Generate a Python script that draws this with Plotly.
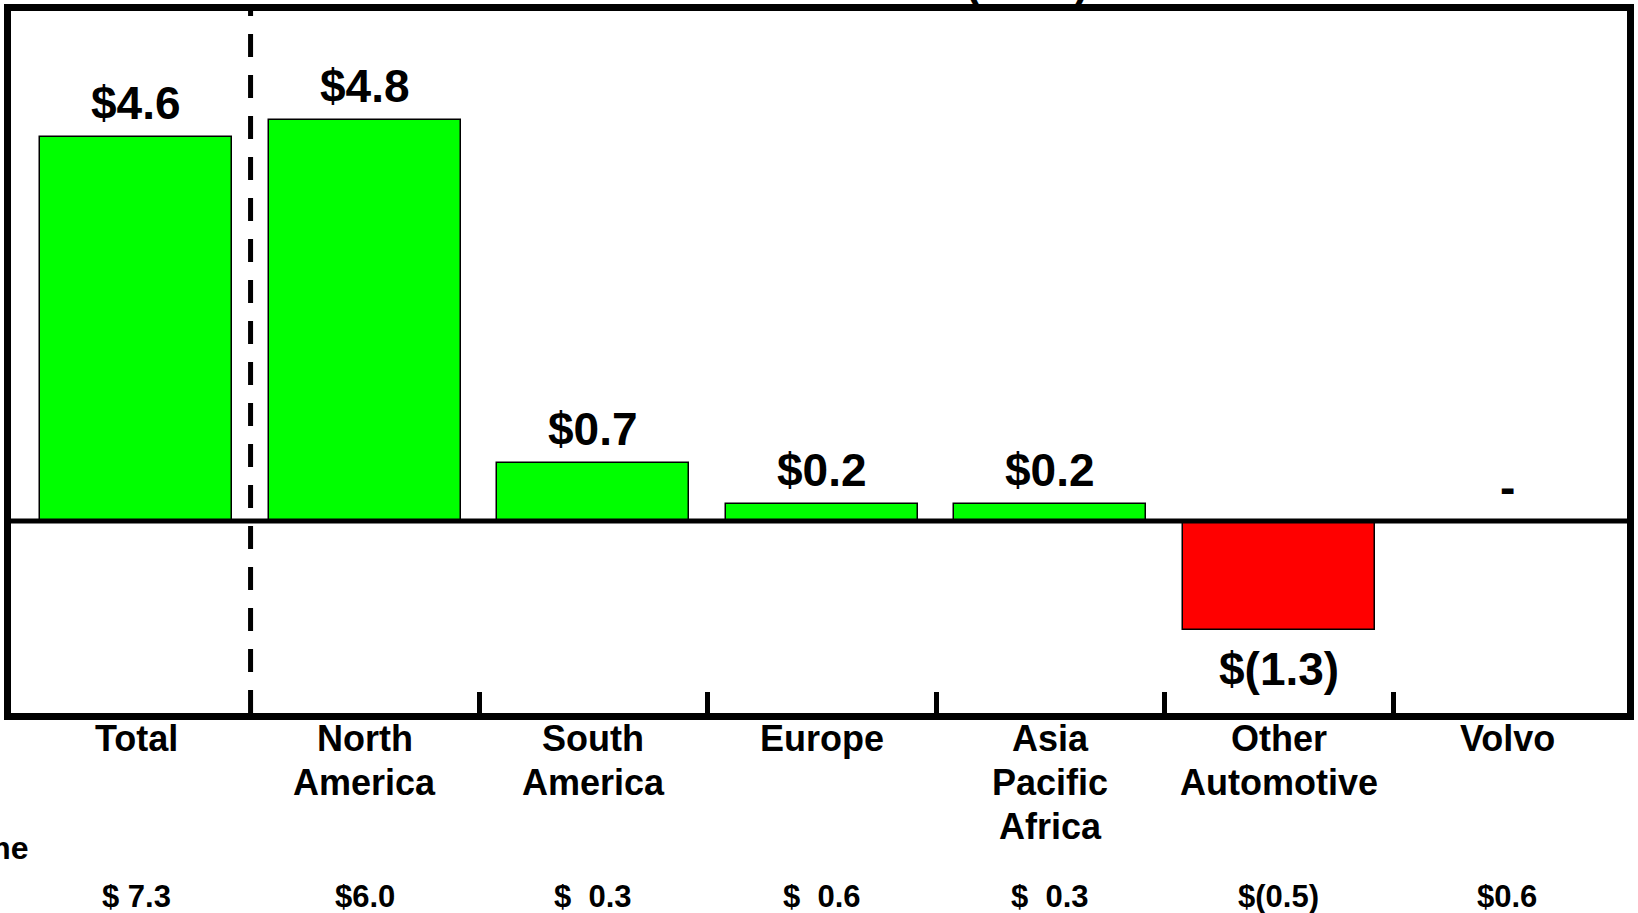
import plotly.graph_objects as go

categories = ["Total", "North America", "South America", "Europe",
              "Asia Pacific Africa", "Other Automotive", "Volvo"]
label_lines = [["Total"], ["North", "America"], ["South", "America"], ["Europe"],
               ["Asia", "Pacific", "Africa"], ["Other", "Automotive"], ["Volvo"]]
values = [4.6, 4.8, 0.7, 0.2, 0.2, -1.3, 0.0]
value_labels = ["$4.6", "$4.8", "$0.7", "$0.2", "$0.2", "$(1.3)", "-"]
row_title = "Net Income"
row_values = ["$ 7.3", "$6.0", "$\u00a0\u00a00.3", "$\u00a0\u00a00.6",
              "$\u00a0\u00a00.3", "$(0.5)", "$0.6"]
chart_title = "(Bils.)"

FONT = "Liberation Sans, Arial, sans-serif"
xs = list(range(len(categories)))
colors = ["#00FF00" if v >= 0 else "#FF0000" for v in values]

fig = go.Figure()
fig.add_trace(go.Bar(
    x=xs, y=values, width=0.84,
    marker=dict(color=colors, line=dict(color="black", width=1.5)),
    hoverinfo="skip", showlegend=False,
))

ann = []
for x, v, t in zip(xs, values, value_labels):
    if v >= 0:
        ann.append(dict(x=x, y=v, xref="x", yref="y", text=t, showarrow=False,
                        yanchor="bottom", yshift=6,
                        font=dict(family=FONT, size=46, color="black", weight="bold")))
    else:
        ann.append(dict(x=x, y=v, xref="x", yref="y", text=t, showarrow=False,
                        yanchor="top", yshift=-11,
                        font=dict(family=FONT, size=46, color="black", weight="bold")))
for x, lines in zip(xs, label_lines):
    for i, ln in enumerate(lines):
        ann.append(dict(x=x, y=0, xref="x", yref="paper", text=ln, showarrow=False,
                        yanchor="top", yshift=-3 - 44 * i,
                        font=dict(family=FONT, size=36, color="black", weight="bold")))
ann.append(dict(x=19 / 1638, y=0, xref="paper", yref="paper", text=row_title,
                showarrow=False, xanchor="right", yanchor="top", yshift=-115,
                font=dict(family=FONT, size=32, color="black", weight="bold")))
for x, t in zip(xs, row_values):
    ann.append(dict(x=x, y=0, xref="x", yref="paper", text=t, showarrow=False,
                    yanchor="top", yshift=-164,
                    font=dict(family=FONT, size=31, color="black", weight="bold")))
ann.append(dict(x=1030 / 1638, y=1, xref="paper", yref="paper", text=chart_title,
                showarrow=False, yanchor="bottom", yshift=2,
                font=dict(family=FONT, size=44, color="black", weight="bold")))

sep_x = (xs[0] + xs[1]) / 2
shapes = [
    dict(type="line", xref="paper", yref="y", x0=0, x1=1, y0=0, y1=0,
         line=dict(color="black", width=5), layer="above"),
    dict(type="line", xref="x", yref="paper", x0=sep_x, x1=sep_x,
         y0=0, y1=1, line=dict(color="black", width=5, dash="23px,18px"), layer="above"),
]

tick_pos = [(xs[i] + xs[i + 1]) / 2 for i in range(1, len(xs) - 1)]

fig.update_layout(
    width=1638, height=913,
    margin=dict(l=11, r=4, t=10, b=200),
    paper_bgcolor="white", plot_bgcolor="white",
    bargap=0,
    annotations=ann, shapes=shapes,
    xaxis=dict(range=[-0.5485, 6.524], showgrid=False, zeroline=False,
               showline=True, linecolor="black", linewidth=7, mirror=True,
               tickmode="array", tickvals=tick_pos, ticktext=[""] * len(tick_pos),
               ticks="inside", ticklen=21, tickwidth=5, tickcolor="black",
               showticklabels=False),
    yaxis=dict(range=[-2.30, 6.11], showgrid=False, zeroline=False,
               showline=True, linecolor="black", linewidth=7, mirror=True,
               showticklabels=False, ticks=""),
)

fig.write_html(
    "out.html",
    config={"displayModeBar": False},
    post_script="document.body.style.margin='0';document.body.style.overflow='hidden';",
)
